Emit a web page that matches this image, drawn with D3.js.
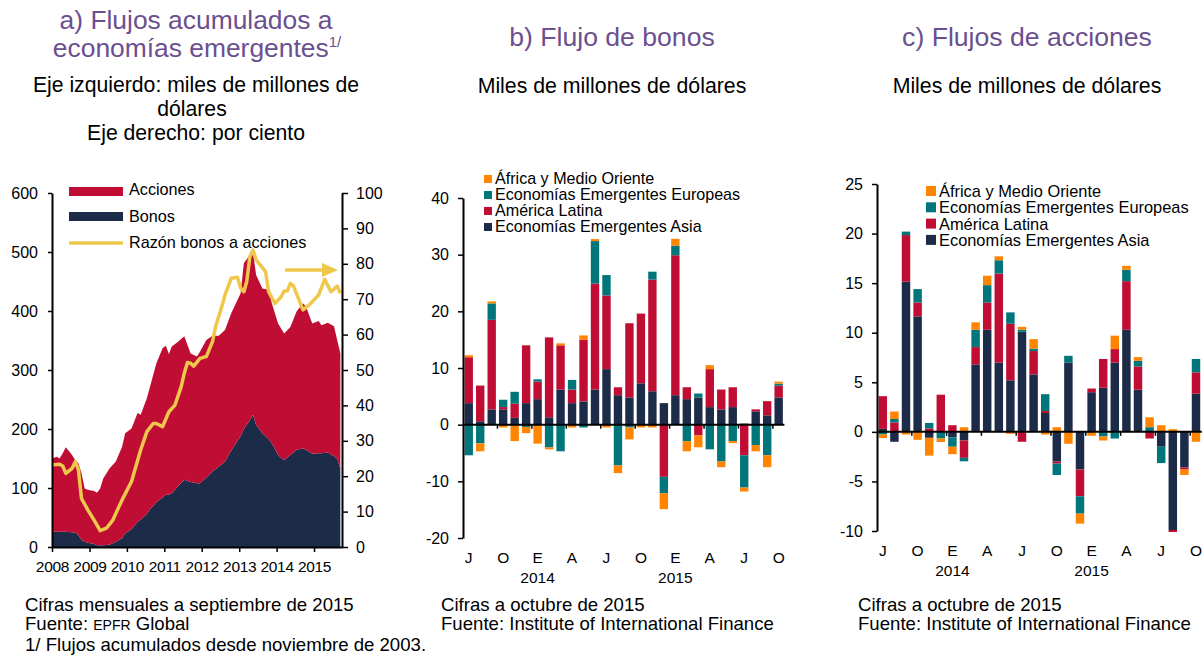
<!DOCTYPE html>
<html>
<head>
<meta charset="utf-8">
<script src="https://cdn.jsdelivr.net/npm/d3@7"></script>
<style>
  body { margin: 0; background: #fff; }
  svg { display: block; font-family: "Liberation Sans", Arial, sans-serif; }
</style>
</head>
<body>
<svg id="chart" width="1204" height="656"></svg>
<script>
// ---- panel a: flujos acumulados (miles de millones de dolares) ----
const mesesA = ["2008-01","2008-02","2008-03","2008-04","2008-05","2008-07","2008-08","2008-09","2008-10","2008-11","2008-12",
  "2009-02","2009-03","2009-04","2009-05","2009-07","2009-09","2009-11","2009-12",
  "2010-02","2010-04","2010-05","2010-07","2010-08","2010-10","2010-12",
  "2011-01","2011-02","2011-03","2011-05","2011-07","2011-09","2011-11","2011-12",
  "2012-02","2012-04","2012-06","2012-08","2012-10",
  "2013-01","2013-02","2013-04","2013-05","2013-06","2013-08","2013-10","2013-11",
  "2014-01","2014-03","2014-05","2014-07","2014-09","2014-10","2014-12",
  "2015-02","2015-03","2015-05","2015-07","2015-08","2015-09"];
const bonosA = [26,26,26,26,26,25,24,20,12,9,7,
  5,3,3,3,4,9,15,23,
  30,43,46,56,64,76,84,
  88,89,91,103,114,110,108,108,
  118,128,136,145,163,
  188,200,215,224,207,193,183,176,
  156,147,156,165,167,165,158,
  159,159,160,154,150,133];
const accionesA = [124,127,124,133,143,131,123,122,113,90,90,
  90,89,96,113,129,136,155,170,
  171,184,178,196,208,235,253,
  253,238,249,245,243,218,215,223,
  233,230,222,223,233,
  242,281,280,276,254,245,253,237,
  223,215,217,234,246,242,221,
  224,217,220,220,201,195];

// razon bonos a acciones (por ciento, eje derecho)
const mesesRazon = ["2008-01","2008-03","2008-04","2008-05","2008-07","2008-08","2008-09","2008-10","2008-12",
  "2009-02","2009-04","2009-06","2009-08","2009-09","2009-11",
  "2010-02","2010-05","2010-07","2010-09","2010-10","2010-12",
  "2011-02","2011-04","2011-06","2011-07","2011-08","2011-09","2011-10","2011-12",
  "2012-02","2012-04","2012-05","2012-07","2012-08","2012-10","2012-12",
  "2013-01","2013-02","2013-03","2013-04","2013-05","2013-06","2013-09","2013-10","2013-12",
  "2014-02","2014-03","2014-04","2014-05","2014-06","2014-09","2014-11",
  "2015-02","2015-04","2015-06","2015-08","2015-09"];
const razonA = [23.2,23.4,22.9,20.8,22.2,24.1,21.8,13.7,10.5,
  7.6,4.6,5.3,7.5,9.5,13.3,
  18.5,27.4,32.6,34.9,34.9,34.0,
  38.2,40.1,45.3,49.1,52.1,51.9,51.1,53.3,
  53.8,58.0,62.2,67.9,71.2,75.9,76.2,
  73.1,72.1,74.9,82.0,83.9,81.1,77.8,72.1,68.8,
  70.7,72.3,72.3,74.5,73.7,67.0,68.4,
  71.2,75.6,72.1,73.7,71.7];
const aniosA = ["2008","2009","2010","2011","2012","2013","2014","2015"];

// ---- panels b and c: flujos mensuales por region ----
const mesesBC = ["2013-07","2013-08","2013-09","2013-10","2013-11","2013-12",
  "2014-01","2014-02","2014-03","2014-04","2014-05","2014-06","2014-07","2014-08","2014-09","2014-10","2014-11","2014-12",
  "2015-01","2015-02","2015-03","2015-04","2015-05","2015-06","2015-07","2015-08","2015-09","2015-10"];
const letrasBC = ["J","A","S","O","N","D","E","F","M","A","M","J","J","A","S","O","N","D",
  "E","F","M","A","M","J","J","A","S","O"];
const regiones = ["asia", "latam", "europa", "africa"];
const nombresRegion = {
  africa: "África y Medio Oriente",
  europa: "Economías Emergentes Europeas",
  latam: "América Latina",
  asia: "Economías Emergentes Asia"
};
const colores = { asia: "#1c2b47", latam: "#c00d34", europa: "#00767b", africa: "#ff8400" };

const bonosAsia   = [3.8,0.6,2.7,2.7,1.2,3.8,4.5,1.3,6.2,3.8,4.1,6.2,9.8,5.2,4.8,7.3,5.9,3.8,5.2,4.5,4.8,3.1,2.7,3.1,0.2,2.35,1.65,4.8];
const bonosLatam  = [8.1,6.3,15.8,0.4,2.5,10.2,3.1,14.1,7.8,2.4,10.9,18.7,13.0,1.4,13.1,12.3,19.7,-9.2,24.7,2.1,-1.9,6.7,3.5,3.5,-5.4,0.35,2.5,2.1];
const bonosEuropa = [-5.4,-3.3,2.9,1.3,2.1,-0.4,0.4,-4.0,-4.7,1.7,-0.5,7.5,3.6,-7.2,-0.5,0,1.4,-2.9,1.7,-2.9,0.7,-4.35,-6.5,-2.9,-5.7,-3.6,-5.4,0.35];
const bonosAfrica = [0.35,-1.4,0.35,-0.5,-2.9,-1.1,-3.35,-0.35,0.35,-0.5,0.75,0.35,-0.5,-1.35,-2.1,-0.5,-0.5,-2.8,1.2,-1.8,-2.1,0.7,-1.0,-0.35,-0.7,-1.1,-2.1,0.35];

const accAsia   = [0.3,-1.0,15.15,11.65,-0.6,0,-0.55,-0.87,6.8,10.3,7.0,5.2,10.1,5.8,1.9,-3.0,7.0,-3.8,4.0,4.45,7.0,10.3,4.25,0,-1.5,-9.9,-3.6,3.85];
const accLatam  = [3.3,0.95,4.7,1.4,0.35,3.75,0.67,-1.75,1.75,2.75,8.96,5.7,-1.0,2.35,0.2,-0.2,0,-2.7,0.37,2.9,1.35,4.9,2.35,-0.67,0,-0.2,-0.2,2.15];
const accEuropa = [-0.27,0.35,0.35,1.35,0.55,-0.67,-0.95,-0.35,1.75,1.75,1.35,1.15,0.2,0.25,1.7,-1.15,0.67,-1.75,0,-0.47,-0.67,1.15,0.57,0.47,-1.65,0,0,1.35];
const accAfrica = [-0.35,0.75,-0.27,-0.8,-1.8,-0.35,-0.75,0.47,0.75,0.95,0.4,-0.2,0.3,0.95,-0.27,0.47,-1.2,-1.0,-0.4,-0.4,1.35,0.4,0.37,1.0,0.67,0.27,-0.55,-1.0];

const purple = "#6b4f8f";
const svg = d3.select("#chart");
const parse = d3.timeParse("%Y-%m");
const midMonth = s => d3.timeDay.offset(parse(s), 14);

function styleAxis(g, size) {
  g.select(".domain").attr("stroke", "#000").attr("stroke-width", 2);
  g.selectAll(".tick line").attr("stroke", "#000").attr("stroke-width", 1.5);
  g.selectAll(".tick text").attr("font-size", size).attr("fill", "#000")
    .attr("font-family", "'Liberation Sans', Arial, sans-serif");
}

function centerText(x, y, str, size, color) {
  return svg.append("text").attr("x", x).attr("y", y).attr("text-anchor", "middle")
    .attr("font-size", size).attr("fill", color || "#000").text(str);
}

// ================= panel a =================
const xA = d3.scaleTime().domain([new Date(2008, 0, 1), new Date(2015, 9, 1)]).range([52, 342]);
const yA = d3.scaleLinear().domain([0, 600]).range([547, 193]);
const yA2 = d3.scaleLinear().domain([0, 100]).range([547, 193]);

const filasA = mesesA.map((m, i) => ({ fecha: midMonth(m), bonos: bonosA[i], acciones: accionesA[i] }));
filasA[0].fecha = parse(mesesA[0]);
const pilaA = d3.stack().keys(["bonos", "acciones"])(filasA);
const areaA = d3.area().x(d => xA(d.data.fecha)).y0(d => yA(d[0])).y1(d => yA(d[1]));
svg.append("g").selectAll("path").data(pilaA).join("path")
  .attr("d", areaA)
  .attr("fill", d => d.key === "bonos" ? colores.asia : colores.latam);

const razonDatos = mesesRazon.map((m, i) => ({ fecha: midMonth(m), v: razonA[i] }));
razonDatos[0].fecha = parse(mesesRazon[0]);
svg.append("path").datum(razonDatos)
  .attr("fill", "none").attr("stroke", "#eec84c").attr("stroke-width", 3.5)
  .attr("stroke-linejoin", "round")
  .attr("d", d3.line().x(d => xA(d.fecha)).y(d => yA2(d.v)));

const fmtNum = d => String(d);
const axLeftA = svg.append("g").attr("transform", "translate(52,0)")
  .call(d3.axisLeft(yA).tickValues(d3.range(0, 601, 100)).tickFormat(fmtNum).tickSize(4).tickSizeOuter(0).tickPadding(10));
styleAxis(axLeftA, 16);
const axRightA = svg.append("g").attr("transform", "translate(342,0)")
  .call(d3.axisRight(yA2).tickValues(d3.range(0, 101, 10)).tickFormat(fmtNum).tickSize(6).tickSizeOuter(0).tickPadding(8));
styleAxis(axRightA, 16);
const axBottomA = svg.append("g").attr("transform", "translate(0,547)")
  .call(d3.axisBottom(xA).tickValues(aniosA.map(a => new Date(+a, 0, 1))).tickFormat(d3.timeFormat("%Y"))
    .tickSize(5).tickSizeOuter(0).tickPadding(9));
styleAxis(axBottomA, 15.5);
axBottomA.selectAll(".tick text").attr("letter-spacing", -0.3);

// arrow pointing to right axis
svg.append("line").attr("x1", 285).attr("x2", 324).attr("y1", 270).attr("y2", 270)
  .attr("stroke", "#eec84c").attr("stroke-width", 3.3);
svg.append("path").attr("d", "M322,263 L338,270 L322,277 Z").attr("fill", "#eec84c");

// legend a
svg.append("rect").attr("x", 69).attr("y", 187).attr("width", 54).attr("height", 9).attr("fill", colores.latam);
svg.append("rect").attr("x", 69).attr("y", 212).attr("width", 54).attr("height", 9).attr("fill", colores.asia);
svg.append("line").attr("x1", 69).attr("x2", 123).attr("y1", 243).attr("y2", 243)
  .attr("stroke", "#eec84c").attr("stroke-width", 3.5);
[["Acciones", 195], ["Bonos", 222], ["Razón bonos a acciones", 248]].forEach(([t, y]) => {
  svg.append("text").attr("x", 129).attr("y", y).attr("font-size", 16.2).text(t);
});

// titles a
centerText(196, 29, "a) Flujos acumulados a", 26.4, purple);
const t2 = centerText(197, 57, "economías emergentes", 26.4, purple);
t2.append("tspan").attr("font-size", 15).attr("dy", -10).text("1/");
centerText(196, 92, "Eje izquierdo: miles de millones de", 21.2);
centerText(192, 116, "dólares", 21.2);
centerText(196, 140, "Eje derecho: por ciento", 21.2);

// ================= panels b and c =================
function panelBarras(cfg) {
  const filas = mesesBC.map((m, i) => ({
    mes: m, asia: cfg.asia[i], latam: cfg.latam[i], europa: cfg.europa[i], africa: cfg.africa[i]
  }));
  const pila = d3.stack().keys(regiones).offset(d3.stackOffsetDiverging)(filas);
  const x = d3.scaleBand().domain(mesesBC).range(cfg.xr).paddingInner(0.27).paddingOuter(0.135);
  const y = d3.scaleLinear().domain(cfg.dom).range(cfg.yr);

  svg.append("g").selectAll("g").data(pila).join("g")
    .attr("fill", d => colores[d.key])
    .selectAll("rect").data(d => d).join("rect")
    .attr("x", d => x(d.data.mes))
    .attr("width", x.bandwidth())
    .attr("y", d => y(Math.max(d[0], d[1])))
    .attr("height", d => Math.abs(y(d[0]) - y(d[1])));

  const ay = svg.append("g").attr("transform", `translate(${cfg.xr[0]},0)`)
    .call(d3.axisLeft(y).tickValues(cfg.ticks).tickFormat(fmtNum).tickSize(5).tickSizeOuter(0).tickPadding(9));
  styleAxis(ay, 16);

  // zero line with quarterly ticks
  const y0 = y(0);
  svg.append("line").attr("x1", cfg.xr[0]).attr("x2", cfg.xr[1]).attr("y1", y0).attr("y2", y0)
    .attr("stroke", "#000").attr("stroke-width", 2);
  const paso = x.step();
  const limites = d3.range(3, mesesBC.length, 3).map(i => cfg.xr[0] + i * paso);
  svg.append("g").selectAll("line").data(limites).join("line")
    .attr("x1", d => d).attr("x2", d => d).attr("y1", y0).attr("y2", y0 + 4)
    .attr("stroke", "#000").attr("stroke-width", 1.5);

  // month letters every quarter, years under January
  mesesBC.forEach((m, i) => {
    const cx = x(m) + x.bandwidth() / 2;
    if (i % 3 === 0) centerText(cx, cfg.mesY, letrasBC[i], 15.5);
    if (m.endsWith("-01")) centerText(cx, cfg.mesY + 20, m.slice(0, 4), 15.5);
  });

  // legend (top to bottom: africa, europa, latam, asia)
  ["africa", "europa", "latam", "asia"].forEach((k, i) => {
    svg.append("rect").attr("x", cfg.leg[0]).attr("y", cfg.leg[1] + i * cfg.leg[3])
      .attr("width", cfg.leg[2]).attr("height", cfg.leg[2]).attr("fill", colores[k]);
    svg.append("text").attr("x", cfg.leg[0] + cfg.leg[2] + 3)
      .attr("y", cfg.leg[1] + i * cfg.leg[3] + cfg.leg[2] + 1)
      .attr("font-size", cfg.legSize).text(nombresRegion[k]);
  });

  centerText(cfg.cx, 46, cfg.titulo, 26.6, purple);
  centerText(cfg.cx, 93, "Miles de millones de dólares", 21.3);
}

panelBarras({
  asia: bonosAsia, latam: bonosLatam, europa: bonosEuropa, africa: bonosAfrica,
  xr: [463, 784.4], dom: [-20, 40], yr: [538, 198], ticks: d3.range(-20, 41, 10),
  mesY: 563, leg: [484, 175, 8, 16], legSize: 16.1, cx: 612, titulo: "b) Flujo de bonos"
});
panelBarras({
  asia: accAsia, latam: accLatam, europa: accEuropa, africa: accAfrica,
  xr: [877, 1201.8], dom: [-10, 25], yr: [531, 184], ticks: d3.range(-10, 26, 5),
  mesY: 556, leg: [926, 186, 10, 16.3], legSize: 16.4, cx: 1027, titulo: "c) Flujos de acciones"
});

// ================= footnotes =================
function notas(x, lineas) {
  lineas.forEach(([str, y]) => {
    const t = svg.append("text").attr("x", x).attr("y", y).attr("font-size", 18.6);
    if (Array.isArray(str)) {
      t.append("tspan").text(str[0]);
      t.append("tspan").attr("font-size", 14).text(str[1]);
      t.append("tspan").text(str[2]);
    } else t.text(str);
  });
}
notas(25, [["Cifras mensuales a septiembre de 2015", 611], [["Fuente: ", "EPFR", " Global"], 630], ["1/ Flujos acumulados desde noviembre de 2003.", 651]]);
notas(441, [["Cifras a octubre de 2015", 611], ["Fuente: Institute of International Finance", 630]]);
notas(858, [["Cifras a octubre de 2015", 611], ["Fuente: Institute of International Finance", 630]]);
</script>
</body>
</html>
